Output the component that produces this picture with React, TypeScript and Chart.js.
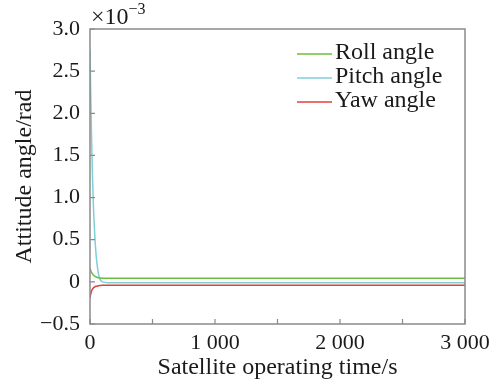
import React, { useEffect, useRef } from 'react';
import { Chart, registerables } from 'chart.js';

Chart.register(...registerables);

// Time axis (s)
const timeS = [0, 5, 10, 15, 20, 25, 30, 40, 50, 60, 70, 80, 100, 150, 200, 500, 1000, 1500, 2000, 2500, 3000];
// Attitude angles (x10^-3 rad)
const rollAngle = [0.16, 0.14, 0.12, 0.105, 0.095, 0.085, 0.078, 0.066, 0.058, 0.052, 0.048, 0.046, 0.044, 0.043, 0.043, 0.043, 0.043, 0.043, 0.043, 0.043, 0.043];
const pitchAngle = [2.75, 2.3, 1.9, 1.55, 1.25, 1.0, 0.8, 0.5, 0.3, 0.17, 0.08, 0.03, 0.0, -0.01, -0.012, -0.012, -0.012, -0.012, -0.012, -0.012, -0.012];
const yawAngle = [-0.19, -0.15, -0.12, -0.1, -0.085, -0.075, -0.068, -0.058, -0.052, -0.048, -0.045, -0.043, -0.041, -0.04, -0.04, -0.04, -0.04, -0.04, -0.04, -0.04, -0.04];

const seriesLabels = ['Roll angle', 'Pitch angle', 'Yaw angle'];
const seriesColors = ['#6cbf3c', '#7fcfd6', '#e2403c'];
const xTickValues = [0, 500, 1000, 1500, 2000, 2500, 3000];
const yTickValues = [-0.5, 0, 0.5, 1.0, 1.5, 2.0, 2.5, 3.0];

const FONT = "'Liberation Serif', 'Times New Roman', serif";
const AXIS_COLOR = '#8a8a8a';

const framePlugin = {
  id: 'frameTicksLegend',
  afterDraw(chart: any) {
    const { ctx, chartArea } = chart;
    const { left, right, top, bottom } = chartArea;
    const xs = chart.scales.x;
    const ys = chart.scales.y;
    ctx.save();
    // frame
    ctx.strokeStyle = AXIS_COLOR;
    ctx.lineWidth = 1.5;
    ctx.strokeRect(left, top, right - left, bottom - top);
    // inward ticks
    ctx.lineWidth = 1.2;
    ctx.beginPath();
    xTickValues.forEach((v) => {
      const px = xs.getPixelForValue(v);
      ctx.moveTo(px, bottom);
      ctx.lineTo(px, bottom - 5);
    });
    yTickValues.forEach((v) => {
      const py = ys.getPixelForValue(v);
      ctx.moveTo(left, py);
      ctx.lineTo(left + 5, py);
    });
    ctx.stroke();

    // exponent label
    ctx.fillStyle = '#1a1a1a';
    ctx.textBaseline = 'alphabetic';
    ctx.textAlign = 'left';
    ctx.font = `24px ${FONT}`;
    const base = '\u00d710';
    ctx.fillText(base, left + 1, top - 5);
    const w = ctx.measureText(base).width;
    ctx.font = `16px ${FONT}`;
    ctx.fillText('\u22123', left + 1 + w, top - 15);

    // legend
    const lx0 = 297;
    const lx1 = 332;
    const ly0 = 54;
    const dy = 24;
    chart.data.datasets.forEach((ds: any, i: number) => {
      const y = ly0 + i * dy;
      ctx.strokeStyle = ds.borderColor;
      ctx.lineWidth = 1.5;
      ctx.beginPath();
      ctx.moveTo(lx0, y);
      ctx.lineTo(lx1, y);
      ctx.stroke();
      ctx.fillStyle = '#1a1a1a';
      ctx.font = `24px ${FONT}`;
      ctx.fillText(ds.label, lx1 + 3, y + 4.5);
    });
    ctx.restore();
  },
};

export default function App() {
  const canvasRef = useRef<HTMLCanvasElement | null>(null);

  useEffect(() => {
    if (!canvasRef.current) return;
    const seriesValues = [rollAngle, pitchAngle, yawAngle];
    const chart = new Chart(canvasRef.current, {
      type: 'line',
      data: {
        datasets: seriesValues.map((vals, i) => ({
          label: seriesLabels[i],
          data: timeS.map((t, j) => ({ x: t, y: vals[j] })),
          borderColor: seriesColors[i],
          backgroundColor: seriesColors[i],
          borderWidth: 1.5,
          pointRadius: 0,
          cubicInterpolationMode: 'monotone' as const,
          fill: false,
        })),
      },
      options: {
        animation: false,
        responsive: false,
        devicePixelRatio: 1,
        layout: { padding: { left: 0, top: 29, right: 37, bottom: 0 } },
        plugins: {
          legend: { display: false },
          tooltip: { enabled: false },
        },
        scales: {
          x: {
            type: 'linear',
            min: 0,
            max: 3000,
            grid: { display: false, drawTicks: false },
            border: { display: false },
            afterBuildTicks: (scale: any) => {
              scale.ticks = xTickValues.map((v) => ({ value: v }));
            },
            afterFit: (scale: any) => {
              scale.height = 59;
            },
            ticks: {
              autoSkip: false,
              maxRotation: 0,
              padding: 6,
              color: '#1a1a1a',
              font: { family: FONT, size: 22 },
              callback: (v: any) => {
                const n = Number(v);
                if (n % 1000 !== 0) return '';
                if (n === 0) return '0';
                return `${Math.floor(n / 1000)} 000`;
              },
            },
            title: {
              display: true,
              text: 'Satellite operating time/s',
              color: '#1a1a1a',
              font: { family: FONT, size: 24 },
              padding: { top: 0, bottom: 1 },
            },
          },
          y: {
            type: 'linear',
            min: -0.5,
            max: 3.0,
            grid: { display: false, drawTicks: false },
            border: { display: false },
            afterBuildTicks: (scale: any) => {
              scale.ticks = yTickValues.map((v) => ({ value: v }));
            },
            afterFit: (scale: any) => {
              scale.width = 90;
            },
            ticks: {
              autoSkip: false,
              padding: 10,
              color: '#1a1a1a',
              font: { family: FONT, size: 22 },
              callback: (v: any) => {
                const n = Number(v);
                if (Math.abs(n) < 1e-9) return '0';
                if (n < 0) return '\u2212' + Math.abs(n).toFixed(1);
                return n.toFixed(1);
              },
            },
            title: {
              display: true,
              text: 'Attitude angle/rad',
              color: '#1a1a1a',
              font: { family: FONT, size: 24 },
              padding: { top: 10, bottom: 0 },
            },
          },
        },
      },
      plugins: [framePlugin],
    });
    return () => chart.destroy();
  }, []);

  return (
    <div style={{ position: 'fixed', left: 0, top: 0, width: 502, height: 383, background: '#fff' }}>
      <canvas ref={canvasRef} width={502} height={383} />
    </div>
  );
}
